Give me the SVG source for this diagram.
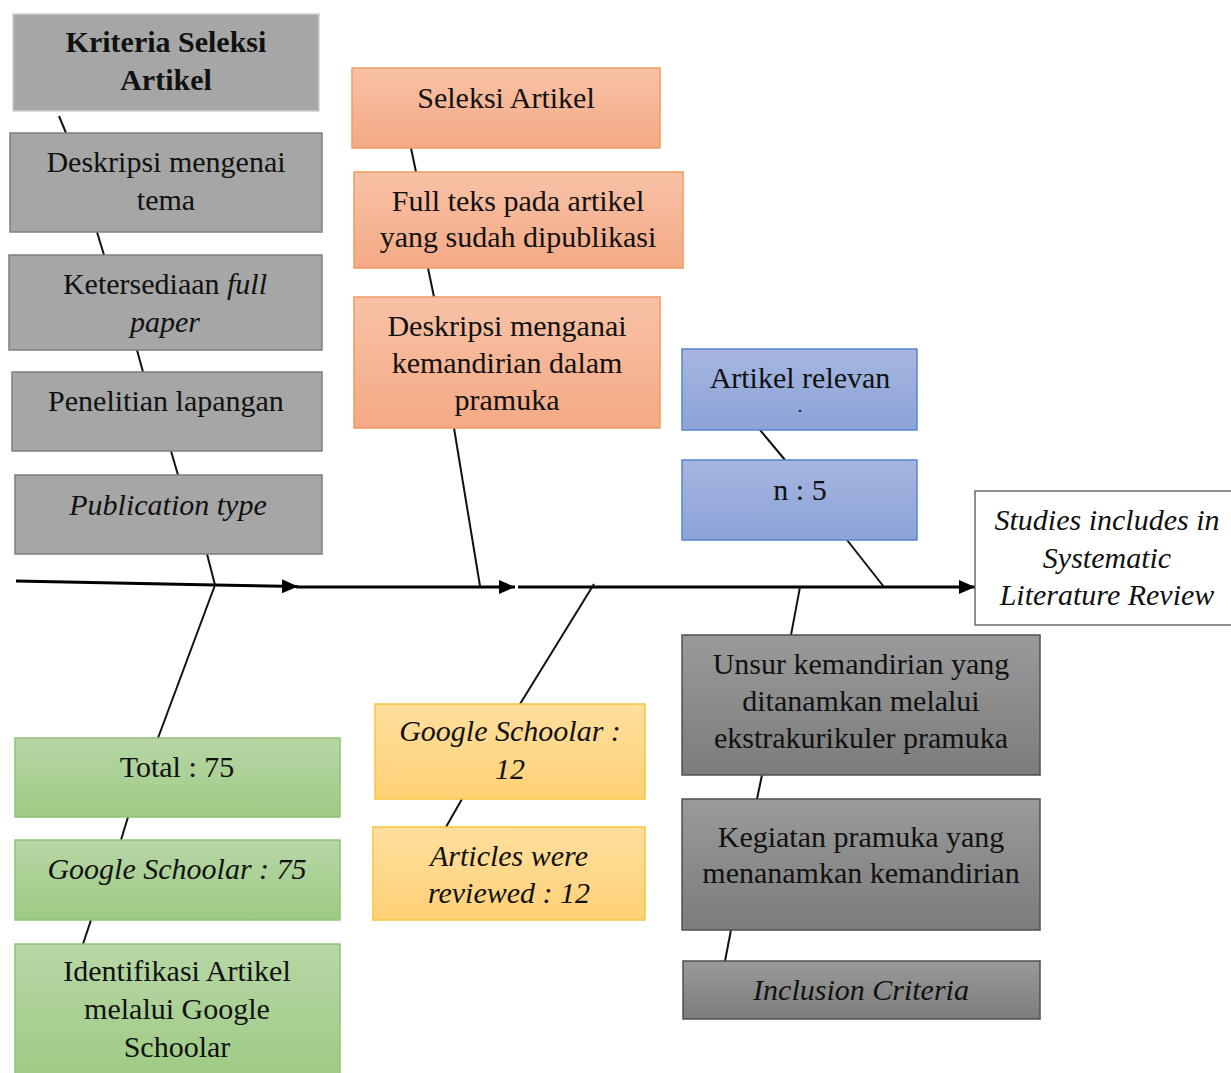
<svg xmlns="http://www.w3.org/2000/svg" width="1231" height="1073" viewBox="0 0 1231 1073">
<defs>
<linearGradient id="gOr" x1="0" y1="0" x2="0" y2="1"><stop offset="0" stop-color="#f8c2a6"/><stop offset="1" stop-color="#f4a985"/></linearGradient>
<linearGradient id="gBl" x1="0" y1="0" x2="0" y2="1"><stop offset="0" stop-color="#a6b6e0"/><stop offset="1" stop-color="#8ba3d8"/></linearGradient>
<linearGradient id="gYe" x1="0" y1="0" x2="0" y2="1"><stop offset="0" stop-color="#ffdf9e"/><stop offset="1" stop-color="#ffd176"/></linearGradient>
<linearGradient id="gGr" x1="0" y1="0" x2="0" y2="1"><stop offset="0" stop-color="#b7d7a6"/><stop offset="1" stop-color="#9ecb84"/></linearGradient>
<linearGradient id="gDg" x1="0" y1="0" x2="0" y2="1"><stop offset="0" stop-color="#9a9a9a"/><stop offset="1" stop-color="#7c7c7c"/></linearGradient>
<marker id="arr" markerUnits="userSpaceOnUse" markerWidth="16" markerHeight="16" refX="16" refY="8" orient="auto"><path d="M0,1 L16,8 L0,15 z" fill="#000"/></marker>
</defs>
<style>
text{font-family:'Liberation Serif','Times New Roman','DejaVu Serif',serif;font-size:30px;fill:#111;text-anchor:middle}
.it{font-style:italic}
.b{font-weight:bold}
.lg{fill:#a6a6a6;stroke:#7f7f7f;stroke-width:1.5}
.or{fill:url(#gOr);stroke:#f29a62;stroke-width:1.5}
.bl{fill:url(#gBl);stroke:#5a84cf;stroke-width:1.5}
.ye{fill:url(#gYe);stroke:#f9c33d;stroke-width:1.5}
.gr{fill:url(#gGr);stroke:#8fc374;stroke-width:1.5}
.dg{fill:url(#gDg);stroke:#505050;stroke-width:1.5}
.wh{fill:#fff;stroke:#6b6b6b;stroke-width:1.5}
.br{stroke:#111;stroke-width:2;fill:none}
.sp{stroke:#000;stroke-width:3;fill:none}
</style>
<g id="connectors">
<path class="sp" d="M16 581 L215 585 L298 586.5" marker-end="url(#arr)"/>
<path class="sp" d="M296 587 L515 587" marker-end="url(#arr)"/>
<path class="sp" d="M518 587 L975 587" marker-end="url(#arr)"/>
<line class="br" x1="59" y1="116" x2="66" y2="133"/>
<line class="br" x1="97" y1="232" x2="104" y2="255"/>
<line class="br" x1="137" y1="350" x2="143" y2="372"/>
<line class="br" x1="171" y1="451" x2="178" y2="475"/>
<line class="br" x1="207" y1="554" x2="215" y2="585"/>
<line class="br" x1="215" y1="585" x2="158" y2="738"/>
<line class="br" x1="128" y1="817" x2="121" y2="840"/>
<line class="br" x1="91" y1="920" x2="83" y2="944"/>
<line class="br" x1="411" y1="148" x2="416" y2="172"/>
<line class="br" x1="428" y1="268" x2="434" y2="297"/>
<line class="br" x1="454" y1="428" x2="480" y2="586"/>
<line class="br" x1="594" y1="584" x2="520" y2="704"/>
<line class="br" x1="462" y1="799" x2="446" y2="827"/>
<line class="br" x1="760" y1="430" x2="785" y2="460"/>
<line class="br" x1="847" y1="540" x2="884" y2="587"/>
<line class="br" x1="800" y1="587" x2="791" y2="635"/>
<line class="br" x1="762" y1="775" x2="757" y2="799"/>
<line class="br" x1="731" y1="930" x2="725" y2="961"/>
</g>
<g id="kriteria"><rect x="13" y="14" width="306" height="97" fill="#a6a6a6" stroke="#d0d0d0" stroke-width="1.5"/><text class="b" x="166" y="52">Kriteria Seleksi</text><text class="b" x="166" y="90">Artikel</text></g>
<g id="deskripsi-tema"><rect class="lg" x="10" y="133" width="312" height="99"/><text x="166" y="172">Deskripsi mengenai</text><text x="166" y="210">tema</text></g>
<g id="ketersediaan"><rect class="lg" x="9" y="255" width="313" height="95"/><text x="165" y="294">Ketersediaan <tspan class="it">full</tspan></text><text class="it" x="165" y="332">paper</text></g>
<g id="penelitian"><rect class="lg" x="12" y="372" width="310" height="79"/><text x="166" y="411">Penelitian lapangan</text></g>
<g id="publication"><rect class="lg" x="15" y="475" width="307" height="79"/><text class="it" x="168" y="515">Publication type</text></g>
<g id="seleksi"><rect class="or" x="352" y="68" width="308" height="80"/><text x="506" y="108">Seleksi Artikel</text></g>
<g id="fullteks"><rect class="or" x="354" y="172" width="329" height="96"/><text x="518" y="211">Full teks pada artikel</text><text x="518" y="247">yang sudah dipublikasi</text></g>
<g id="deskripsi-kemandirian"><rect class="or" x="354" y="297" width="306" height="131"/><text x="507" y="336">Deskripsi menganai</text><text x="507" y="373">kemandirian dalam</text><text x="507" y="410">pramuka</text></g>
<g id="artikel-relevan"><rect class="bl" x="682" y="349" width="235" height="81"/><text x="800" y="388">Artikel relevan</text><text x="800" y="412" style="font-size:18px">.</text></g>
<g id="n5"><rect class="bl" x="682" y="460" width="235" height="80"/><text x="800" y="500">n : 5</text></g>
<g id="studies"><rect class="wh" x="975" y="491" width="262" height="134"/><text class="it" x="1107" y="530">Studies includes in</text><text class="it" x="1107" y="568">Systematic</text><text class="it" x="1107" y="605">Literature Review</text></g>
<g id="unsur"><rect class="dg" x="682" y="635" width="358" height="140"/><text x="861" y="674">Unsur kemandirian yang</text><text x="861" y="711">ditanamkan melalui</text><text x="861" y="748">ekstrakurikuler pramuka</text></g>
<g id="kegiatan"><rect class="dg" x="682" y="799" width="358" height="131"/><text x="861" y="847">Kegiatan pramuka yang</text><text x="861" y="883">menanamkan kemandirian</text></g>
<g id="inclusion"><rect class="dg" x="683" y="961" width="357" height="58"/><text class="it" x="861" y="1000">Inclusion Criteria</text></g>
<g id="gs12"><rect class="ye" x="375" y="704" width="270" height="95"/><text class="it" x="510" y="741">Google Schoolar :</text><text class="it" x="510" y="779">12</text></g>
<g id="reviewed"><rect class="ye" x="373" y="827" width="272" height="93"/><text class="it" x="509" y="866">Articles were</text><text class="it" x="509" y="903">reviewed : 12</text></g>
<g id="total"><rect class="gr" x="15" y="738" width="325" height="79"/><text x="177" y="777">Total : 75</text></g>
<g id="gs75"><rect class="gr" x="15" y="840" width="325" height="80"/><text class="it" x="177" y="879">Google Schoolar : 75</text></g>
<g id="identifikasi"><rect class="gr" x="15" y="944" width="325" height="135"/><text x="177" y="981">Identifikasi Artikel</text><text x="177" y="1019">melalui Google</text><text x="177" y="1057">Schoolar</text></g>
</svg>
